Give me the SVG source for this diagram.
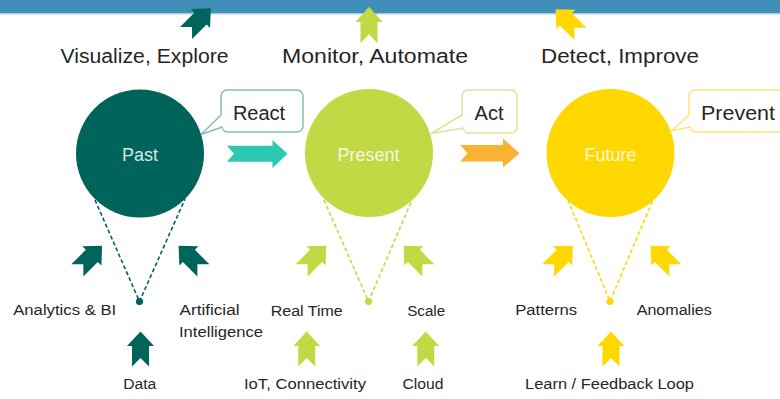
<svg xmlns="http://www.w3.org/2000/svg" xmlns:xlink="http://www.w3.org/1999/xlink" width="780" height="399" viewBox="0 0 780 399">
<style>
  text { font-family: "Liberation Sans", Arial, sans-serif; fill: #262626; }
  .top { font-size: 20px; text-anchor: middle; }
  .call { font-size: 20px; text-anchor: middle; }
  .circ { font-size: 18px; text-anchor: middle; fill: #ffffff; fill-opacity: 0.85; }
  .lab { font-size: 15.5px; text-anchor: middle; }
  .dash { fill: none; stroke-width: 1.6; stroke-dasharray: 4 2.5; }
  .teal { fill: #00645b; }
  .lime { fill: #c2d844; }
  .gold { fill: #fed800; }
</style>
<defs>
  <path id="ar" d="M0,-17.5 L13.5,-3 L8.5,-3 L8.5,17.5 L0,9 L-8.5,17.5 L-8.5,-3 L-13.5,-3 Z"/>
</defs>

<g id="banner">
  <rect x="0" y="0" width="780" height="13" fill="#3f8fb9"/>
  <rect x="0" y="13" width="780" height="1.5" fill="#a8cee0"/>
</g>

<g id="connectors">
  <path class="dash" stroke="#00645b" d="M95,200 L139.5,301.5 L185,199"/>
  <path class="dash" stroke="#c2d844" d="M324,200 L368.5,301.5 L412,200"/>
  <path class="dash" stroke="#fed800" d="M568,200 L610,301.5 L653,200"/>
  <path fill="#2bc9b0" d="M227,145.7 L272.5,145.7 L272.5,140 L287.5,153.8 L272.5,168 L272.5,161.7 L227,161.7 L234,153.7 Z"/>
  <path fill="#f9b234" d="M460,145 L503,145 L503,138.5 L519.5,153.3 L503,167.5 L503,161.5 L460,161.5 L467.5,153.3 Z"/>
</g>

<g id="past">
  <circle cx="140" cy="153.5" r="64" class="teal"/>
  <circle cx="139.5" cy="301.5" r="3.6" class="teal"/>
  <text class="circ" x="140" y="161">Past</text>
</g>
<g id="present">
  <circle cx="369" cy="153" r="64" class="lime"/>
  <circle cx="368.5" cy="301.5" r="3.6" class="lime"/>
  <text class="circ" x="368.5" y="161">Present</text>
</g>
<g id="future">
  <circle cx="610.5" cy="153" r="64" class="gold"/>
  <circle cx="610" cy="301.5" r="3.6" class="gold"/>
  <text class="circ" x="610.5" y="161">Future</text>
</g>

<g id="callout-react">
  <path fill="#ffffff" stroke="#86bcb7" stroke-width="1.5" d="M227,90 H297 A6,6 0 0 1 303,96 V126 A6,6 0 0 1 297,132 H228 A6,6 0 0 1 222,127 L201,134.5 L221,115 V96 A6,6 0 0 1 227,90 Z"/>
  <text class="call" x="259" y="120">React</text>
</g>
<g id="callout-act">
  <path fill="#ffffff" stroke="#d6e79c" stroke-width="1.5" d="M468,90 H511 A6,6 0 0 1 517,96 V127 A6,6 0 0 1 511,133 H469 A6,6 0 0 1 463,128 L431,133.5 L462,115 V96 A6,6 0 0 1 468,90 Z"/>
  <text class="call" x="489" y="120">Act</text>
</g>
<g id="callout-prevent">
  <path fill="#ffffff" stroke="#ffe47a" stroke-width="1.5" d="M695,90 H790 V132 H696 A6,6 0 0 1 690,127 L671.5,131 L689,115 V96 A6,6 0 0 1 695,90 Z"/>
  <text class="call" x="738" y="120" textLength="74" lengthAdjust="spacingAndGlyphs">Prevent</text>
</g>

<g id="top-labels">
  <use xlink:href="#ar" class="teal" transform="translate(198.4,20.7) rotate(45)"/>
  <use xlink:href="#ar" class="lime" transform="translate(369,25) scale(1,1.04)"/>
  <use xlink:href="#ar" class="gold" transform="translate(568,21.5) rotate(-45)"/>
  <text class="top" x="144.5" y="63" textLength="168" lengthAdjust="spacingAndGlyphs">Visualize, Explore</text>
  <text class="top" x="375" y="63" textLength="186" lengthAdjust="spacingAndGlyphs">Monitor, Automate</text>
  <text class="top" x="620" y="63" textLength="158" lengthAdjust="spacingAndGlyphs">Detect, Improve</text>
</g>

<g id="past-inputs">
  <use xlink:href="#ar" class="teal" transform="translate(89.7,258) rotate(45)"/>
  <use xlink:href="#ar" class="teal" transform="translate(191,258) rotate(-45)"/>
  <use xlink:href="#ar" class="teal" transform="translate(140.5,349)"/>
  <text class="lab" x="64.7" y="315" textLength="103" lengthAdjust="spacingAndGlyphs">Analytics &amp; BI</text>
  <text class="lab" x="209.5" y="315" textLength="60" lengthAdjust="spacingAndGlyphs">Artificial</text>
  <text class="lab" x="221" y="337" textLength="84" lengthAdjust="spacingAndGlyphs">Intelligence</text>
  <text class="lab" x="139.7" y="388.5" textLength="33" lengthAdjust="spacingAndGlyphs">Data</text>
</g>

<g id="present-inputs">
  <use xlink:href="#ar" class="lime" transform="translate(314,258) rotate(45)"/>
  <use xlink:href="#ar" class="lime" transform="translate(416,258) rotate(-45)"/>
  <use xlink:href="#ar" class="lime" transform="translate(306.7,349)"/>
  <use xlink:href="#ar" class="lime" transform="translate(425.8,349)"/>
  <text class="lab" x="306.7" y="316" textLength="72" lengthAdjust="spacingAndGlyphs">Real Time</text>
  <text class="lab" x="426.2" y="316" textLength="38" lengthAdjust="spacingAndGlyphs">Scale</text>
  <text class="lab" x="305" y="389" textLength="122" lengthAdjust="spacingAndGlyphs">IoT, Connectivity</text>
  <text class="lab" x="423" y="389" textLength="41" lengthAdjust="spacingAndGlyphs">Cloud</text>
</g>

<g id="future-inputs">
  <use xlink:href="#ar" class="gold" transform="translate(560.5,258) rotate(45)"/>
  <use xlink:href="#ar" class="gold" transform="translate(663,258) rotate(-45)"/>
  <use xlink:href="#ar" class="gold" transform="translate(611,349)"/>
  <text class="lab" x="546.2" y="315" textLength="62" lengthAdjust="spacingAndGlyphs">Patterns</text>
  <text class="lab" x="674.2" y="315" textLength="75" lengthAdjust="spacingAndGlyphs">Anomalies</text>
  <text class="lab" x="609.5" y="388.5" textLength="169" lengthAdjust="spacingAndGlyphs">Learn / Feedback Loop</text>
</g>
</svg>
